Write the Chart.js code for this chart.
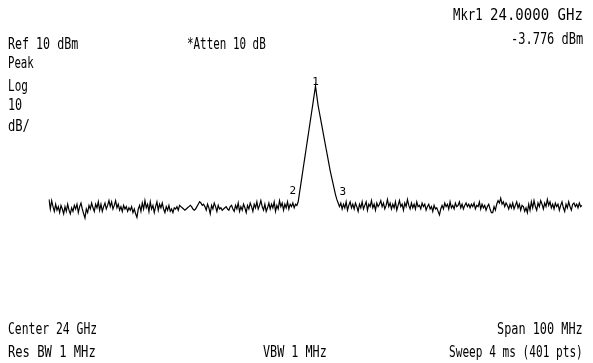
<!DOCTYPE html>
<html>
<head>
<meta charset="utf-8">
<title>Spectrum 24 GHz</title>
<script src="https://cdn.jsdelivr.net/npm/chart.js@4/dist/chart.umd.min.js"></script>
<style>
	html, body { margin: 0; background: #fff; }
	#screen { position: relative; width: 593px; height: 363px; overflow: hidden; background: #fff; }
	#screen canvas { position: absolute; left: 0; top: 0; }
	.ann { position: absolute; font-family: 'DejaVu Sans Mono', monospace; font-size: 16px; line-height: 16px; color: #000; white-space: pre; transform-origin: 0 0; }
</style>
</head>
<body>
<div id="screen"><canvas id="trace" width="593" height="363"></canvas></div>
<script>
// sweep: 401 pts over 100 MHz span, centre 24 GHz
const START_MHZ = 23950;
const STEP_MHZ = 0.25;
const REF_LEVEL = 10;
const BOTTOM_LEVEL = -90;

// trace levels in dBm
const leftFloor = [
	-51, -55, -51.5, -54, -56, -53, -55.5, -54, -56.5, -53.5, -55, -57, -54, -56, -53, -55.5, -57, -54.5, -56, -53.5,
	-55, -53, -56.5, -54, -52.5, -55, -57, -58.8, -55, -56.5, -53.5, -55, -52.5, -54.5, -56, -53, -54.5, -52, -55.5, -53,
	-56, -54, -52.5, -55, -53.5, -51.5, -54, -52, -55, -53.5, -51.5, -54.5, -53, -55.5, -54, -56, -53.5, -55, -54, -56,
	-54.5, -55.5, -54, -56.5, -55, -57, -58.5, -55, -53.5, -56, -52.5, -55, -51.5, -54.5, -53, -56, -52, -55, -53.5, -56.5,
	-54, -52, -55.5, -53, -54.5, -52.5, -55, -56.5, -54, -55.5, -53.5, -56, -55, -56.5, -54.5, -55, -54, -55.5, -53.5, -54,
	-54.5, -55, -55.5, -55, -54.5, -54, -53.5, -54, -55, -55.5, -55, -54, -53, -52, -52.5, -53.5, -53, -54, -55.5, -53,
	-54.5, -57, -53.5, -55, -52.5, -54, -56, -53.5, -55, -54.5, -55.5, -55, -54.5, -54, -55, -55.5, -54, -53.5, -55, -56,
	-53.5, -55, -52.5, -56, -54, -55.5, -53, -54.5, -56.5, -53.5, -55, -52.5, -54, -56, -53, -54.5, -52, -55, -53.5, -51.5,
	-54, -55.5, -53, -56, -54.5, -52.5, -55, -53, -54.5, -52, -56, -53.5, -55, -51.5, -54, -52.5, -55.5, -53, -54.5, -52,
	-55, -53, -54, -52.5, -54.5, -53,
];
const carrier = [
	-53.5, -52, -48.3, -44.6, -40.9, -37.2, -33.5, -29.8, -26.1, -22.4, -18.7, -15, -11.3, -7.5, -3.776,
	-8, -12, -15, -18, -21, -24, -27, -30, -33, -36, -39, -41.5, -44, -46.5, -49, -51, -52.5,
];
const rightFloor = [
	-54, -52.5, -55, -53, -54.5, -52, -55.5, -53.5, -52, -54.5, -53, -55, -52.5, -54, -56, -53, -54.5, -52, -55, -53.5,
	-52, -55.5, -53, -54, -51.5, -54.5, -53, -55.5, -52.5, -54, -53, -51.5, -54, -52.5, -55, -53.5, -51, -54, -52.5, -55,
	-53, -54.5, -52, -55.5, -53.5, -51.5, -54, -53, -55.5, -52.5, -54, -51, -53.5, -55, -52.5, -54.5, -53, -55, -52, -54,
	-53.5, -55, -52.5, -54, -53, -55.5, -54, -53, -55, -54, -56, -53.5, -55, -54.5, -56, -57.5, -55, -53.5, -55, -52.5,
	-54, -53, -55, -52, -54.5, -53.5, -55, -52.5, -54, -53.5, -52, -54.5, -53, -55, -53.5, -52.5, -54, -53, -54.5, -53,
	-54, -52.5, -55, -53.5, -54, -52, -55, -53, -54.5, -53.5, -55.5, -54, -53, -55, -56.5, -56.5, -54, -55.5, -53, -51.5,
	-52.5, -50.5, -53, -52, -54, -52.5, -53.5, -55, -53, -54.5, -52.5, -55, -53.5, -52, -54.5, -53, -55.5, -53.5, -54, -56,
	-54.5, -56.5, -53, -55.5, -52, -54.5, -51.5, -54, -55.5, -52.5, -54, -51.5, -53, -55, -52.5, -54, -51, -53.5, -52, -54.5,
	-53, -55, -52.5, -54, -53, -55.5, -53.5, -52, -54.5, -56, -53, -54.5, -52, -54, -55.5, -53, -52.5, -54, -53, -54.5,
	-52.5, -54, -53.5,
];

// marker trace indices and their labels
const markerIndex = [200, 187, 218];
const markerLabel = ['1', '2', '3'];

const levels = [...leftFloor, ...carrier, ...rightFloor];
const freqLabels = levels.map((_, i) => (START_MHZ + i * STEP_MHZ).toFixed(2));

// screen annotations: text, left, right, top
const annotations = [
	['Mkr1', 453, 483, 7],
	['24.0000 GHz', 490, 583, 7],
	['-3.776 dBm', 511, 583, 31],
	['Ref 10 dBm', 8, 78, 36],
	['*Atten 10 dB', 187, 266, 36],
	['Peak', 8, 34, 55],
	['Log', 8, 28, 78],
	['10', 8, 22, 97],
	['dB/', 8, 30, 118],
	['Center 24 GHz', 8, 97, 321],
	['Res BW 1 MHz', 8, 96, 344],
	['VBW 1 MHz', 263, 327, 344],
	['Span 100 MHz', 497, 583, 321],
	['Sweep 4 ms (401 pts)', 449, 583, 344],
];

const screen = document.getElementById('screen');

function placeText(text, left, right, top) {
	const el = document.createElement('div');
	el.className = 'ann';
	el.textContent = text;
	screen.appendChild(el);
	const w = el.offsetWidth;
	el.style.left = left + 'px';
	el.style.top = top + 'px';
	el.style.transform = `scaleX(${(right - left) / w})`;
}

annotations.forEach((a) => placeText(a[0], a[1], a[2], a[3]));

// marker numbers drawn next to their trace points
const markerOffsets = [
	{ dx: 0, dy: 2, align: 'center' },
	{ dx: -2, dy: -5, align: 'right' },
	{ dx: 0, dy: -9, align: 'left' },
];

const markerPlugin = {
	id: 'markerPlugin',
	afterDatasetsDraw(chart) {
		const meta = chart.getDatasetMeta(0);
		const ctx = chart.ctx;
		ctx.save();
		ctx.font = '11px "DejaVu Sans Mono"';
		ctx.fillStyle = '#000';
		ctx.textBaseline = 'bottom';
		markerIndex.forEach((idx, k) => {
			const pt = meta.data[idx];
			const off = markerOffsets[k];
			ctx.textAlign = off.align;
			ctx.fillText(markerLabel[k], pt.x + off.dx, pt.y + off.dy);
		});
		ctx.restore();
	},
};

new Chart(document.getElementById('trace').getContext('2d'), {
	type: 'line',
	data: {
		labels: freqLabels,
		datasets: [
			{
				label: 'Trace 1',
				data: levels,
				borderColor: '#000',
				borderWidth: 1.2,
				pointRadius: 0,
				tension: 0,
				fill: false,
			},
		],
	},
	options: {
		responsive: false,
		animation: false,
		events: [],
		layout: { padding: { left: 49, right: 11, top: 53, bottom: 70 } },
		plugins: { legend: { display: false }, tooltip: { enabled: false } },
		scales: {
			x: { display: false },
			y: { display: false, min: BOTTOM_LEVEL, max: REF_LEVEL },
		},
	},
	plugins: [markerPlugin],
});
</script>
</body>
</html>
